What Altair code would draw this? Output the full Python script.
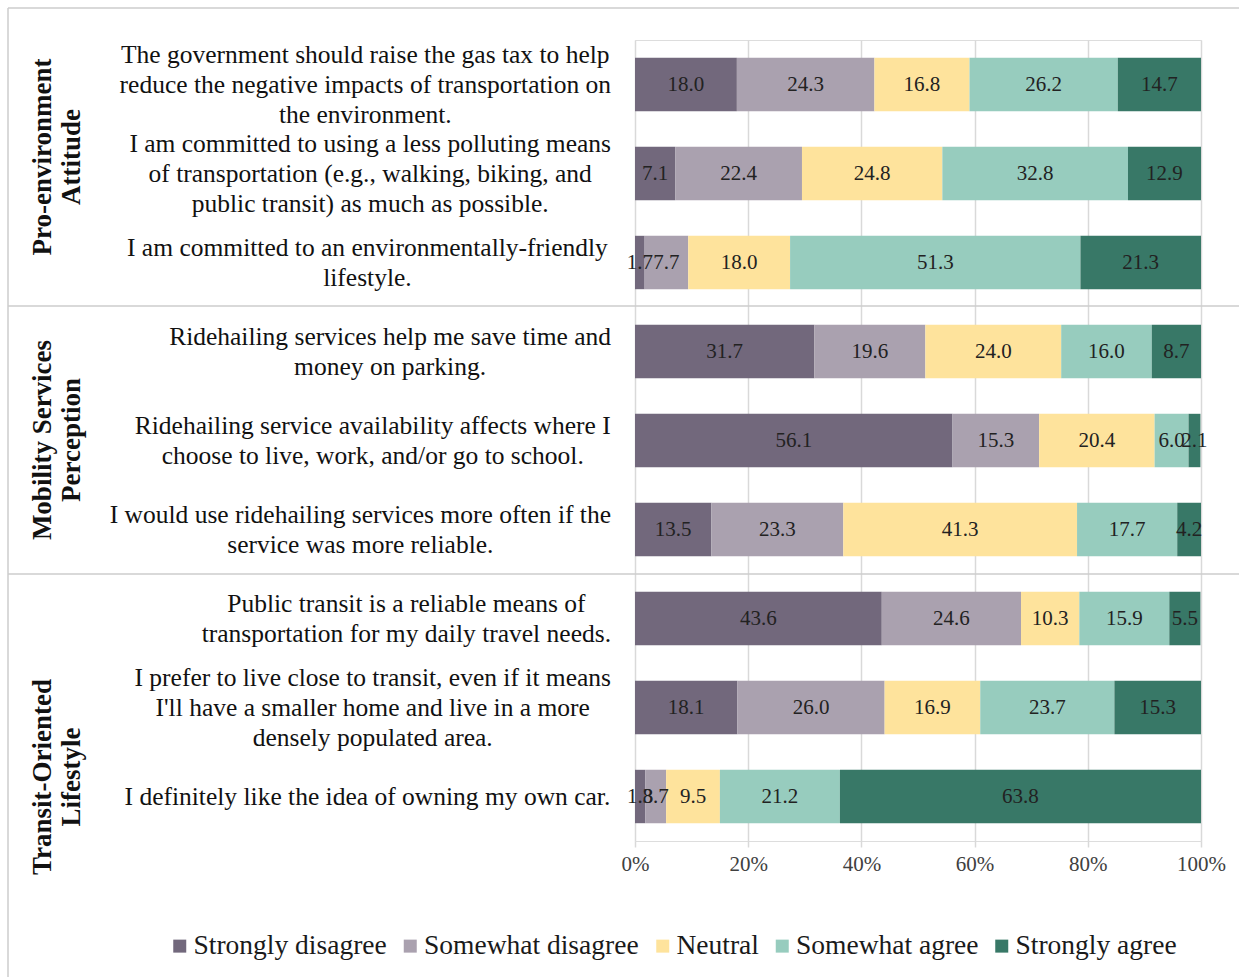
import os
import struct
import altair as alt
import pandas as pd

# ---------------- data ----------------
groups = ["Pro-environment\nAttitude", "Mobility Services\nPerception", "Transit-Oriented\nLifestyle"]
items = [
    "The government should raise the gas tax to help\nreduce the negative impacts of transportation on\nthe environment.",
    "I am committed to using a less polluting means\nof transportation (e.g., walking, biking, and\npublic transit) as much as possible.",
    "I am  committed to an environmentally-friendly\nlifestyle.",
    "Ridehailing services help me save time and\nmoney on parking.",
    "Ridehailing service availability affects where I\nchoose to live, work, and/or go to school.",
    "I would use ridehailing services more often if the\nservice was more reliable.",
    "Public transit is a reliable means of\ntransportation for my daily travel needs.",
    "I prefer to live close to transit, even if it means\nI'll have a smaller home and live in a more\ndensely populated area.",
    "I definitely like the idea of owning my own car.",
]
responses = ["Strongly disagree", "Somewhat disagree", "Neutral", "Somewhat agree", "Strongly agree"]
strongly_disagree = [18.0, 7.1, 1.7, 31.7, 56.1, 13.5, 43.6, 18.1, 1.8]
somewhat_disagree = [24.3, 22.4, 7.7, 19.6, 15.3, 23.3, 24.6, 26.0, 3.7]
neutral = [16.8, 24.8, 18.0, 24.0, 20.4, 41.3, 10.3, 16.9, 9.5]
somewhat_agree = [26.2, 32.8, 51.3, 16.0, 6.0, 17.7, 15.9, 23.7, 21.2]
strongly_agree = [14.7, 12.9, 21.3, 8.7, 2.1, 4.2, 5.5, 15.3, 63.8]
tick_values = [0, 20, 40, 60, 80, 100]

colors = ["#72687c", "#aaa1af", "#fee39c", "#97ccbe", "#387867"]

FONT = "Liberation Serif"
ITEM_SIZE = 25.5
ITEM_LH = 30
VAL_SIZE = 21
TICK_SIZE = 21
LEG_SIZE = 27.5
GROUP_SIZE = 27
GROUP_LH = 29

W, H = 566, 801
PAD_L, PAD_T = 635, 40
LABEL_GAP = 24


# ---------------- text measuring (for block-right, line-centred labels) ----------------
def load_width_fn(fname):
    path = None
    for root in ["/usr/share/fonts", "/usr/local/share/fonts", os.path.expanduser("~/.fonts")]:
        if not os.path.isdir(root):
            continue
        for dp, dn, fn in os.walk(root):
            if fname in fn:
                path = os.path.join(dp, fname)
                break
        if path:
            break
    if not path:
        return None
    try:
        data = open(path, "rb").read()
        num = struct.unpack(">H", data[4:6])[0]
        tables = {}
        for i in range(num):
            tag, cs, off, ln = struct.unpack(">4sIII", data[12 + 16 * i:28 + 16 * i])
            tables[tag.decode("latin1")] = off
        upem = struct.unpack(">H", data[tables["head"] + 18:tables["head"] + 20])[0]
        nhm = struct.unpack(">H", data[tables["hhea"] + 34:tables["hhea"] + 36])[0]
        hm = tables["hmtx"]
        adv = [struct.unpack(">H", data[hm + 4 * i:hm + 4 * i + 2])[0] for i in range(nhm)]
        cm = tables["cmap"]
        n = struct.unpack(">H", data[cm + 2:cm + 4])[0]
        sub = None
        for i in range(n):
            pid, eid, off = struct.unpack(">HHI", data[cm + 4 + 8 * i:cm + 12 + 8 * i])
            if pid == 3 and eid == 1:
                sub = cm + off
        if sub is None or struct.unpack(">H", data[sub:sub + 2])[0] != 4:
            return None
        segx2 = struct.unpack(">H", data[sub + 6:sub + 8])[0]
        seg = segx2 // 2
        ends = struct.unpack(">%dH" % seg, data[sub + 14:sub + 14 + segx2])
        starts = struct.unpack(">%dH" % seg, data[sub + 16 + segx2:sub + 16 + 2 * segx2])
        deltas = struct.unpack(">%dh" % seg, data[sub + 16 + 2 * segx2:sub + 16 + 3 * segx2])
        rpos = sub + 16 + 3 * segx2
        roffs = struct.unpack(">%dH" % seg, data[rpos:rpos + segx2])

        def gid(c):
            for i in range(seg):
                if starts[i] <= c <= ends[i]:
                    if roffs[i] == 0:
                        return (c + deltas[i]) & 0xFFFF
                    addr = rpos + 2 * i + roffs[i] + 2 * (c - starts[i])
                    g = struct.unpack(">H", data[addr:addr + 2])[0]
                    return (g + deltas[i]) & 0xFFFF if g else 0
            return 0

        def width(s, size):
            tot = 0
            for ch in s:
                g = gid(ord(ch))
                tot += adv[min(g, nhm - 1)]
            return tot * size / upem

        return width
    except Exception:
        return None


text_width = load_width_fn("LiberationSerif-Regular.ttf") or (lambda s, size: len(s) * 0.45 * size)

# ---------------- tables ----------------
series = [strongly_disagree, somewhat_disagree, neutral, somewhat_agree, strongly_agree]
rows = []
for r_i, (resp, vals) in enumerate(zip(responses, series)):
    for it, v in zip(items, vals):
        rows.append({"item": it, "response": resp, "order": r_i, "value": v, "label": f"{v:.1f}"})
df = pd.DataFrame(rows)

lab_rows = []
for it in items:
    lines = it.split("\n")
    maxw = max(text_width(line, ITEM_SIZE) for line in lines)
    lab_rows.append({"item": it, "lx": -LABEL_GAP - maxw / 2.0, "nlines": len(lines)})
df_lab = pd.DataFrame(lab_rows)

yscale = alt.Scale(domain=items, paddingInner=0.4, paddingOuter=0.2)
Y = alt.Y("item:N", sort=items, scale=yscale, axis=None)

base = alt.Chart(df).transform_stack(
    stack="value", groupby=["item"], sort=[alt.SortField("order", order="ascending")], as_=["x0", "x1"]
)

bars = base.mark_bar().encode(
    x=alt.X(
        "x0:Q",
        scale=alt.Scale(domain=[0, 100], nice=False),
        axis=alt.Axis(
            values=tick_values,
            labelExpr="datum.value + '%'",
            title=None,
            grid=True,
            gridColor="#d9d9d9",
            gridWidth=1.5,
            domain=False,
            ticks=True,
            tickColor="#d9d9d9",
            tickWidth=1.5,
            tickSize=6,
            labelFont=FONT,
            labelFontSize=TICK_SIZE,
            labelColor="#404040",
            labelPadding=6,
            labelFlush=False,
            labelOverlap=False,
        ),
    ),
    x2="x1:Q",
    y=Y,
    color=alt.Color(
        "response:N",
        scale=alt.Scale(domain=responses, range=colors),
        sort=responses,
        legend=alt.Legend(
            title=None,
            orient="none",
            direction="horizontal",
            legendX=166 - PAD_L,
            legendY=932 - PAD_T,
            symbolType="square",
            symbolSize=169,
            symbolStrokeWidth=0,
            labelFont=FONT,
            labelFontSize=LEG_SIZE,
            labelColor="#1a1a1a",
            labelLimit=0,
            labelOffset=0,
            columnPadding=9.5,
            padding=0,
        ),
    ),
    order=alt.Order("order:Q"),
)

vals = base.transform_calculate(mid="(datum.x0 + datum.x1) / 2").mark_text(
    font=FONT, fontSize=VAL_SIZE, color="#222222", baseline="middle", align="center"
).encode(x="mid:Q", y=Y, text="label:N")

# item labels: Vega puts the first line at the anchor, so shift multi-line blocks up
item_layers = []
for n in sorted(df_lab["nlines"].unique()):
    item_layers.append(
        alt.Chart(df_lab[df_lab["nlines"] == n]).mark_text(
            font=FONT, fontSize=ITEM_SIZE, color="#111111", baseline="middle", align="center",
            lineBreak="\n", lineHeight=ITEM_LH, dy=-(int(n) - 1) * ITEM_LH / 2.0,
        ).encode(x=alt.X("lx:Q", scale=None), y=Y, text="item:N")
    )

# group labels (rotated); lines stack to the right, so anchor at the first line
group_y = [157 - PAD_T, 440 - PAD_T, 777 - PAD_T]
group_layers = []
for g, gy in zip(groups, group_y):
    group_layers.append(
        alt.Chart(pd.DataFrame({"g": [g]})).mark_text(
            font=FONT, fontSize=GROUP_SIZE, fontWeight="bold", color="#111111",
            angle=270, align="center", baseline="middle", lineBreak="\n", lineHeight=GROUP_LH,
        ).encode(x=alt.value(57 - GROUP_LH / 2.0 - PAD_L), y=alt.value(gy), text="g:N")
    )

# frame lines
line_color = "#cccccc"
frame = []
frame.append(alt.Chart(pd.DataFrame({"a": [0]})).mark_rule(color=line_color, strokeWidth=1.5).encode(
    x=alt.value(8 - PAD_L), y=alt.value(8 - PAD_T), y2=alt.value(977 - PAD_T)))
for yy in [8, 306, 574]:
    frame.append(alt.Chart(pd.DataFrame({"a": [0]})).mark_rule(color=line_color, strokeWidth=1.5).encode(
        x=alt.value(8 - PAD_L), x2=alt.value(1239 - PAD_L), y=alt.value(yy - PAD_T)))

chart = alt.layer(*frame, bars, vals, *item_layers, *group_layers).properties(
    width=W,
    height=H,
    autosize=alt.AutoSizeParams(type="none"),
    padding={"left": PAD_L, "top": PAD_T, "right": 1239 - PAD_L - W, "bottom": 977 - PAD_T - H},
).configure_view(stroke=None).configure(background="white")

chart.save("out.html", embed_options={"renderer": "svg", "actions": False})
